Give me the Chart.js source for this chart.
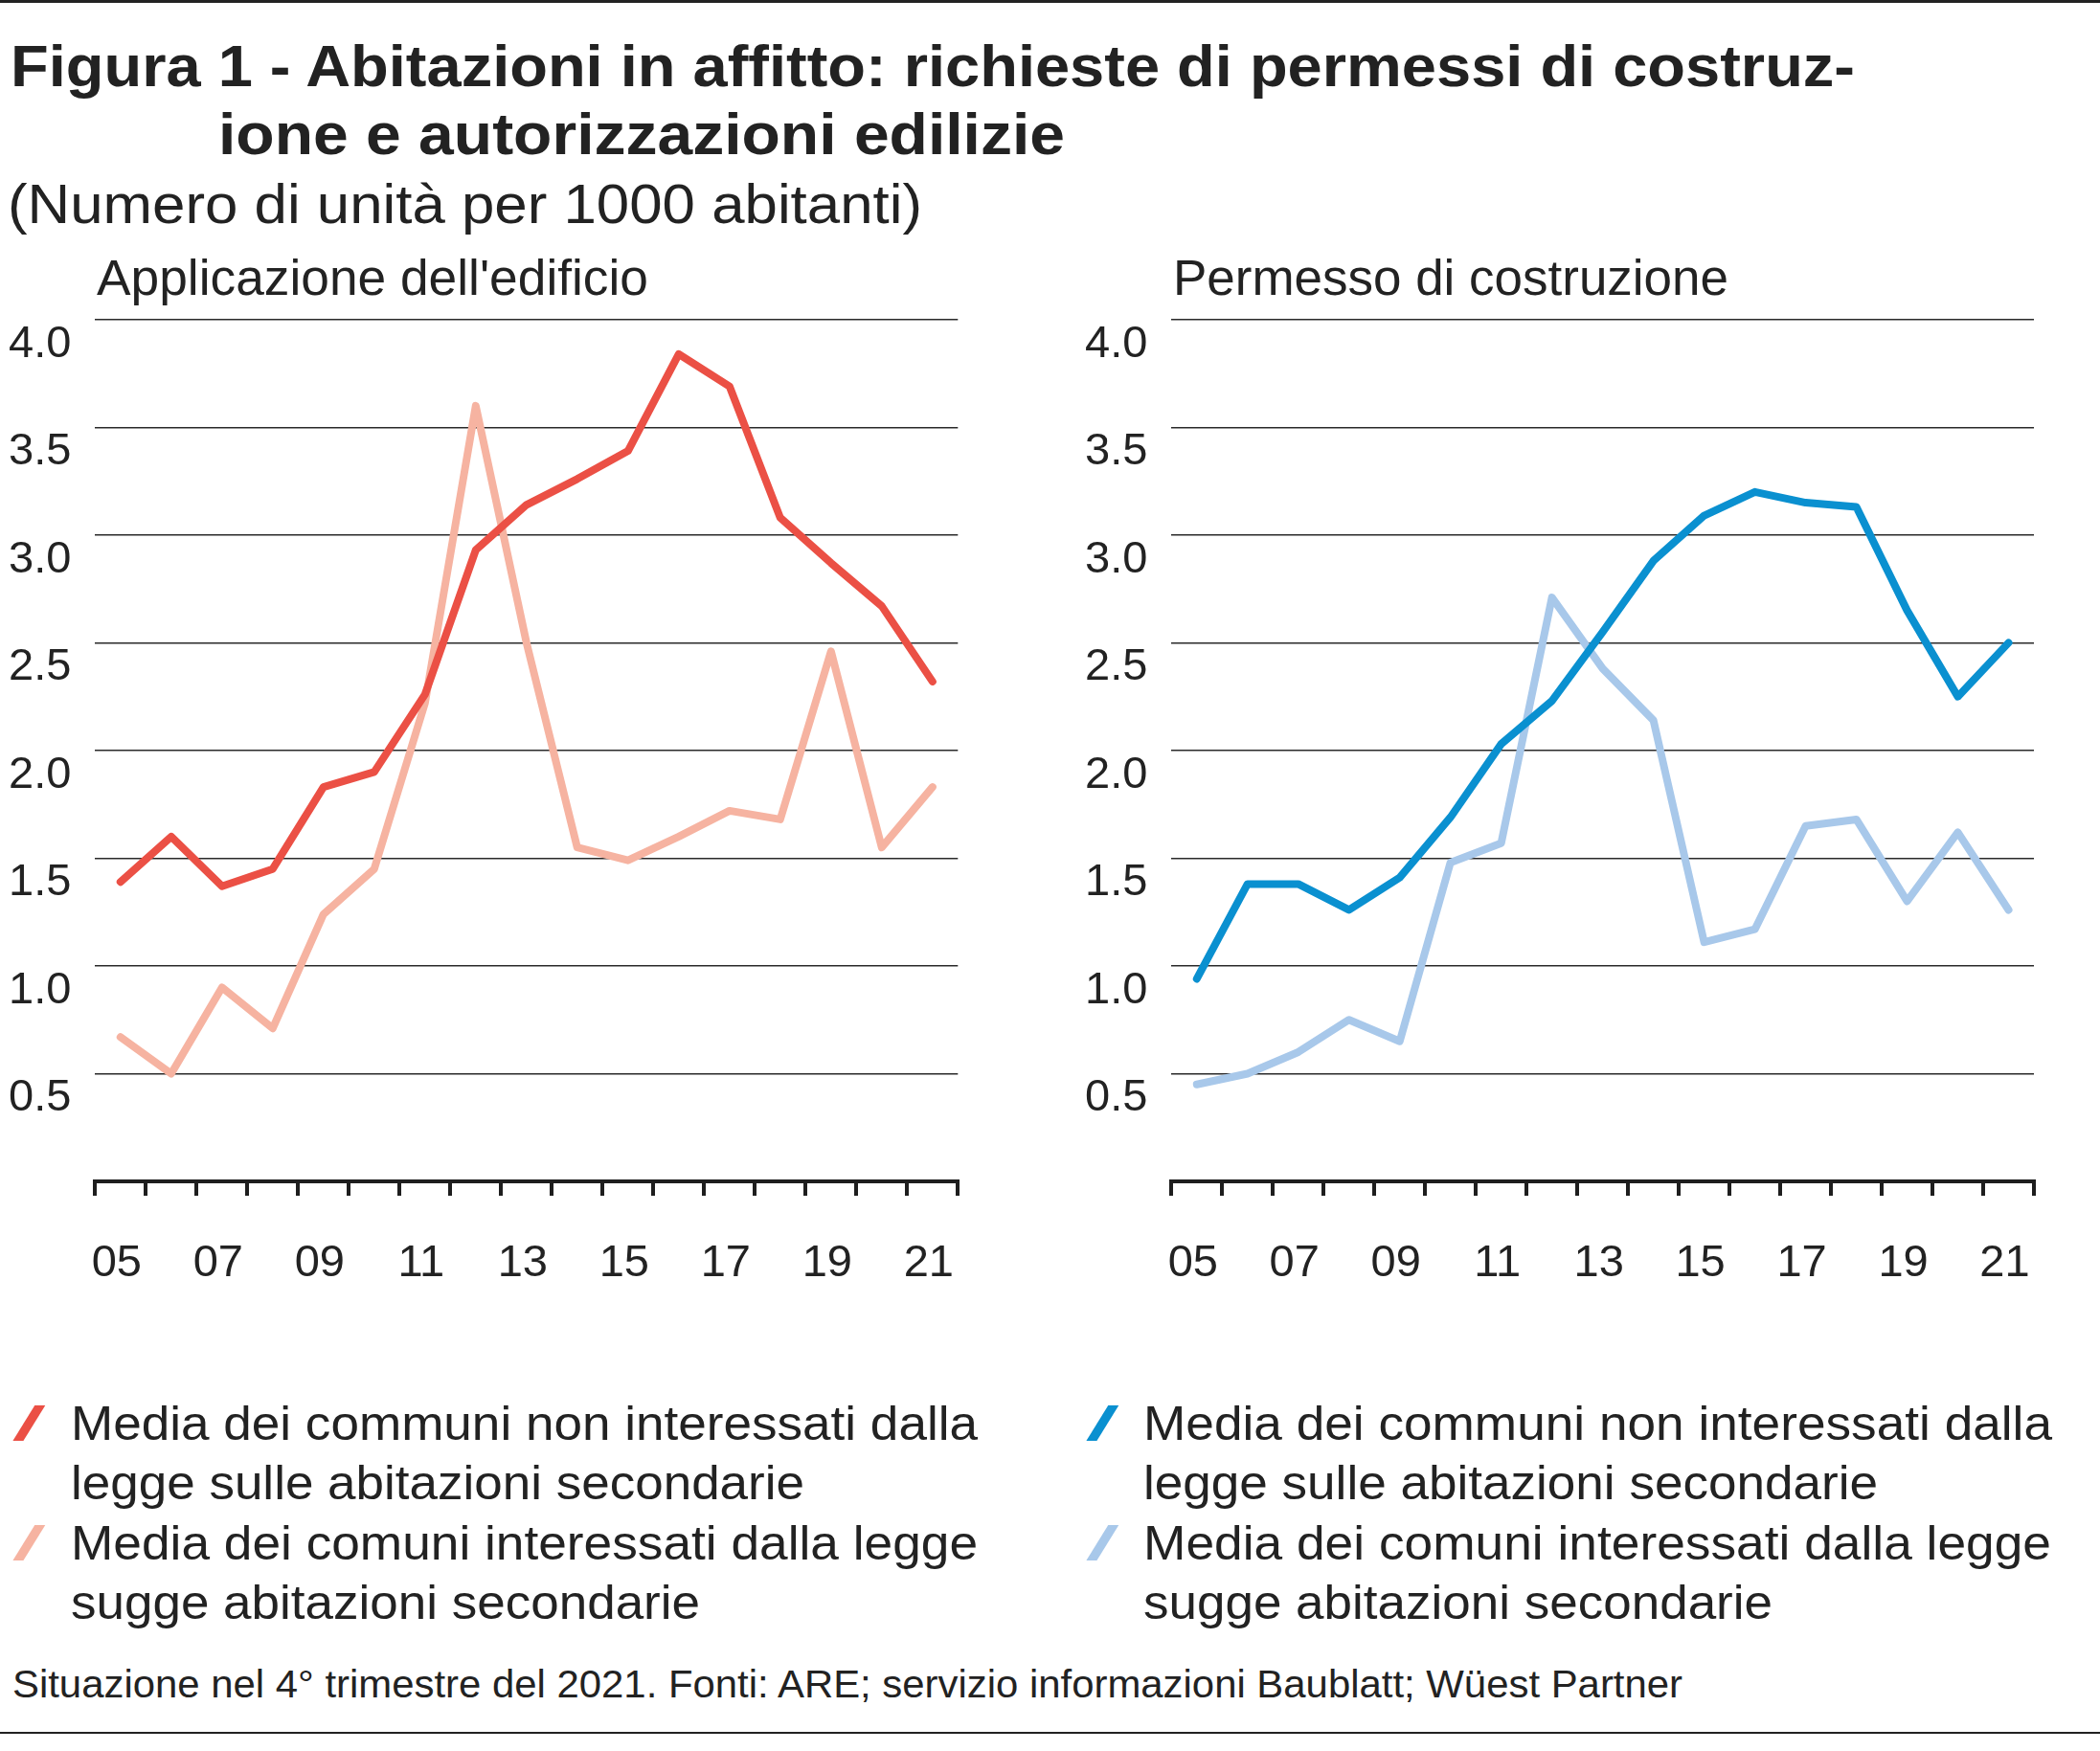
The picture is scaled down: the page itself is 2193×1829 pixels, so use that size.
<!DOCTYPE html>
<html>
<head>
<meta charset="utf-8">
<title>Figura 1</title>
<script src="https://cdn.jsdelivr.net/npm/chart.js@4"></script>
<style>
  body { margin: 0; background: #fff; }
  #page { position: relative; width: 2193px; height: 1829px; overflow: hidden;
          font-family: 'Liberation Sans', Arial, sans-serif; color: #222; }
  .t { position: absolute; white-space: nowrap; transform-origin: 0 0; line-height: 1; }
  .rule { position: absolute; left: 0; width: 2193px; background: #222; }
  .mark { position: absolute; width: 10.7px; height: 36.5px; transform: skewX(-31.7deg); }
  .box { position: absolute; }
</style>
</head>
<body>
<div id="page"></div>
<script>
// --- data ---
const years = ['05','06','07','08','09','10','11','12','13','14','15','16','17','18','19','20','21'];
const shownYears = ['05','07','09','11','13','15','17','19','21'];
const yMin = 0, yMax = 4, yStep = 0.5;

// Applicazione dell'edificio
const applNonInteressati = [1.39, 1.60, 1.37, 1.45, 1.83, 1.90, 2.26, 2.93, 3.14, 3.26, 3.39, 3.84, 3.69, 3.08, 2.87, 2.67, 2.32];
const applInteressati    = [0.67, 0.50, 0.90, 0.71, 1.24, 1.45, 2.22, 3.60, 2.50, 1.55, 1.49, 1.60, 1.72, 1.68, 2.46, 1.55, 1.83];
// Permesso di costruzione
const permNonInteressati = [0.94, 1.38, 1.38, 1.26, 1.41, 1.69, 2.03, 2.23, 2.55, 2.88, 3.09, 3.20, 3.15, 3.13, 2.65, 2.25, 2.50];
const permInteressati    = [0.45, 0.50, 0.60, 0.75, 0.65, 1.48, 1.57, 2.71, 2.38, 2.14, 1.11, 1.17, 1.65, 1.68, 1.30, 1.62, 1.26];

const legendNonInteressati = ['Media dei communi non interessati dalla', 'legge sulle abitazioni secondarie'];
const legendInteressati = ['Media dei comuni interessati dalla legge', 'sugge abitazioni secondarie'];

const RED = '#eb5045', SALMON = '#f6b3a1', BLUE = '#0a90d0', LIGHTBLUE = '#a8c8ea';
const INK = '#222';

const page = document.getElementById('page');

// text helper: put baseline at y, stretch to the width seen in the picture
function placeText(txt, x, base, size, w, bold) {
  const el = document.createElement('div');
  el.className = 't';
  el.textContent = txt;
  el.style.fontSize = size + 'px';
  el.style.fontWeight = bold ? '700' : '400';
  el.style.left = x + 'px';
  el.style.top = (base - 0.8465 * size) + 'px';
  page.appendChild(el);
  const nat = el.getBoundingClientRect().width;
  el.style.transform = 'scaleX(' + (w / nat) + ')';
}

function rule(y, h) {
  const r = document.createElement('div');
  r.className = 'rule';
  r.style.top = y + 'px';
  r.style.height = h + 'px';
  page.appendChild(r);
}

function mark(cx, cy, color) {
  const m = document.createElement('div');
  m.className = 'mark';
  m.style.left = (cx - 5.35) + 'px';
  m.style.top = (cy - 18.25) + 'px';
  m.style.background = color;
  page.appendChild(m);
}

function hasFont(name) {
  const c = document.createElement('canvas').getContext('2d');
  const s = '0123456789 abcdefghij';
  c.font = '40px monospace'; const a = c.measureText(s).width;
  c.font = '40px "' + name + '", monospace'; const b = c.measureText(s).width;
  c.font = '40px serif'; const a2 = c.measureText(s).width;
  c.font = '40px "' + name + '", serif'; const b2 = c.measureText(s).width;
  return a !== b || a2 !== b2;
}

const narrow = hasFont('Liberation Sans Narrow');
const tickFont = narrow ? { family: "'Liberation Sans Narrow'", size: 48, lineHeight: 1 }
                        : { family: "'Liberation Sans'", size: 47, lineHeight: 1 };

// rules, titles
rule(0, 2.5);
rule(1808.8, 2.5);
placeText('Figura 1 - Abitazioni in affitto: richieste di permessi di costruz-', 10.5, 90.5, 61, 1926, true);
placeText('ione e autorizzazioni edilizie', 228, 161.7, 61, 884, true);
placeText('(Numero di unità per 1000 abitanti)', 8, 233.3, 58, 955, false);
placeText("Applicazione dell'edificio", 101, 308.4, 51, 576, false);
placeText('Permesso di costruzione', 1225, 308.4, 51, 580, false);

// legend
const legBase = [1504.3, 1566.7, 1629, 1691.4];
const legWidthsL = [947, 766, 947, 657];
const legWidthsR = [949, 767, 948, 657];
const legLines = legendNonInteressati.concat(legendInteressati);
legLines.forEach((s, i) => {
  placeText(s, 73.5, legBase[i], 50, legWidthsL[i], false);
  placeText(s, 1194, legBase[i], 50, legWidthsR[i], false);
});
mark(30, 1485.9, RED);
mark(30, 1610.8, SALMON);
mark(1151.2, 1485.9, BLUE);
mark(1151.2, 1610.8, LIGHTBLUE);

placeText('Situazione nel 4° trimestre del 2021. Fonti: ARE; servizio informazioni Baublatt; Wüest Partner', 12.6, 1773.3, 40, 1744, false);

// charts
function makeChart(left, width, padL, yW, padR, dark, light, colDark, colLight) {
  const box = document.createElement('div');
  box.className = 'box';
  box.style.left = left + 'px';
  box.style.top = '300px';
  const cv = document.createElement('canvas');
  cv.width = width;
  cv.height = 1064;
  box.appendChild(cv);
  page.appendChild(box);

  const lineStyle = { pointRadius: 0, borderWidth: 8, tension: 0, fill: false,
                      borderCapStyle: 'round', borderJoinStyle: 'round' };

  return new Chart(cv.getContext('2d'), {
    type: 'line',
    data: {
      labels: years,
      datasets: [
        Object.assign({ data: dark, borderColor: colDark }, lineStyle),
        Object.assign({ data: light, borderColor: colLight }, lineStyle)
      ]
    },
    options: {
      responsive: false,
      animation: false,
      devicePixelRatio: 1,
      layout: { padding: { left: padL, top: 33.8, right: padR, bottom: 0 } },
      plugins: { legend: { display: false }, tooltip: { enabled: false } },
      scales: {
        x: {
          type: 'category',
          offset: true,
          grid: { offset: true, drawOnChartArea: false, drawTicks: true, tickLength: 15,
                  tickWidth: 4, lineWidth: 4, color: '#1e1e1e' },
          border: { display: true, width: 4, color: '#1e1e1e' },
          ticks: {
            autoSkip: false, maxRotation: 0, padding: 48, labelOffset: -4,
            color: INK, font: tickFont,
            callback: (v, i) => shownYears.includes(years[i]) ? years[i] : ''
          },
          afterFit: s => { s.height = 130; s.paddingLeft = 0; s.paddingRight = 0; }
        },
        y: {
          min: yMin, max: yMax,
          ticks: {
            stepSize: yStep, crossAlign: 'far', labelOffset: 26, padding: 0,
            color: INK, font: tickFont,
            callback: v => v === 0 ? '' : v.toFixed(1)
          },
          grid: {
            drawTicks: false, lineWidth: 1.5,
            color: c => (c.tick && c.tick.value === 0) ? 'rgba(0,0,0,0)' : '#2a2a2a'
          },
          border: { display: false },
          afterFit: s => { s.width = yW; s.paddingTop = 0; s.paddingBottom = 0; }
        }
      }
    }
  });
}

makeChart(0, 1013, 9, 90.3, 12.7, applNonInteressati, applInteressati, RED, SALMON);
makeChart(1120, 1016, 13, 90.3, 12, permNonInteressati, permInteressati, BLUE, LIGHTBLUE);
</script>
</body>
</html>
